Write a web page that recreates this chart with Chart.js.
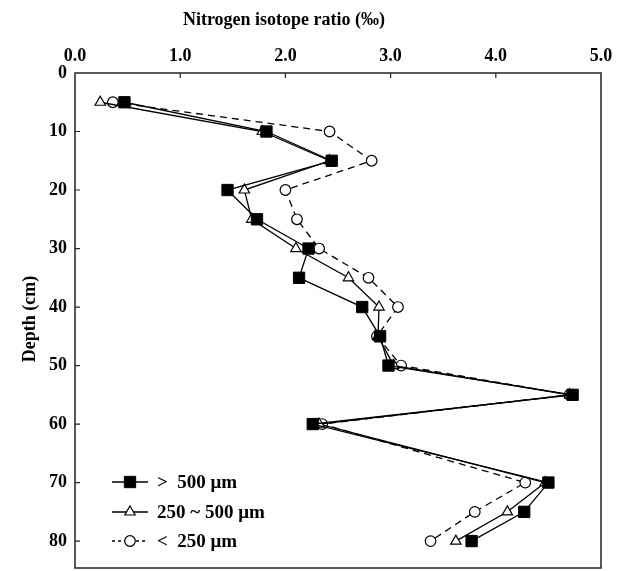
<!DOCTYPE html>
<html>
<head>
<meta charset="utf-8">
<script src="https://cdn.jsdelivr.net/npm/chart.js@4/dist/chart.umd.min.js"></script>
<style>
html,body{margin:0;padding:0;background:#fff;}
#wrap{width:628px;height:571px;}
</style>
</head>
<body>
<div id="wrap"><canvas id="c" width="628" height="571"></canvas></div>
<script>
// ---- data ----
const depths = [5, 10, 15, 20, 25, 30, 35, 40, 45, 50, 55, 60, 70, 75, 80];
const coarse = [0.47, 1.82, 2.44, 1.45, 1.73, 2.22, 2.13, 2.73, 2.90, 2.98, 4.73, 2.26, 4.50, 4.27, 3.77]; // > 500 um
const medium = [0.24, 1.78, 2.42, 1.61, 1.68, 2.10, 2.60, 2.89, 2.88, 3.03, 4.70, 2.32, 4.47, 4.11, 3.62]; // 250~500 um
const fine   = [0.36, 2.42, 2.82, 2.00, 2.11, 2.32, 2.79, 3.07, 2.87, 3.10, 4.70, 2.35, 4.28, 3.80, 3.38]; // < 250 um
const seriesLabels = ['>  500 μm', '250 ~ 500 μm', '<  250 μm'];
const xTickValues = [0, 1, 2, 3, 4, 5];
const yTickValues = [0, 10, 20, 30, 40, 50, 60, 70, 80];
const xTitle = 'Nitrogen isotope ratio (‰)';
const yTitle = 'Depth (cm)';

const SERIF = '"Liberation Serif", "Times New Roman", serif';
const toPts = vals => vals.map((v, i) => ({x: v, y: depths[i]}));

const datasets = [
  {label: seriesLabels[0], data: toPts(coarse), pointStyle: 'rect', pointRadius: 8,
   backgroundColor: '#000', borderColor: '#000', pointBorderColor: '#000', pointBackgroundColor: '#000',
   borderWidth: 1.3, pointBorderWidth: 1, showLine: true, borderDash: []},
  {label: seriesLabels[1], data: toPts(medium), pointStyle: 'triangle', pointRadius: 6,
   backgroundColor: '#fff', borderColor: '#000', pointBorderColor: '#000', pointBackgroundColor: '#fff',
   borderWidth: 1.3, pointBorderWidth: 1.2, showLine: true, borderDash: []},
  {label: seriesLabels[2], data: toPts(fine), pointStyle: 'circle', pointRadius: 5.3,
   backgroundColor: '#fff', borderColor: '#000', pointBorderColor: '#000', pointBackgroundColor: '#fff',
   borderWidth: 1.3, pointBorderWidth: 1.2, showLine: true, borderDash: [7, 5]}
];

const framePlugin = {
  id: 'frame',
  afterDatasetsDraw(chart) {
    const {ctx, chartArea: a, scales} = chart;
    ctx.save();
    ctx.strokeStyle = '#222';
    ctx.lineWidth = 1.5;
    ctx.strokeRect(a.left, a.top, a.right - a.left, a.bottom - a.top);
    ctx.lineWidth = 1.2;
    ctx.beginPath();
    xTickValues.forEach(v => {
      if (v === 0 || v === 5) return;
      const px = scales.x.getPixelForValue(v);
      ctx.moveTo(px, a.top); ctx.lineTo(px, a.top + 5);
    });
    yTickValues.forEach(v => {
      if (v === 0) return;
      const py = scales.y.getPixelForValue(v);
      ctx.moveTo(a.left, py); ctx.lineTo(a.left + 5, py);
    });
    ctx.stroke();
    // axis titles
    ctx.fillStyle = '#000';
    ctx.font = 'bold 18px ' + SERIF;
    ctx.textAlign = 'center';
    ctx.textBaseline = 'middle';
    ctx.fillText(xTitle, 284, 20);
    ctx.translate(30, 319);
    ctx.rotate(-Math.PI / 2);
    ctx.fillText(yTitle, 0, 0);
    ctx.restore();
  }
};

const legendPlugin = {
  id: 'customLegend',
  afterDatasetsDraw(chart) {
    const {ctx} = chart;
    const baseY = [482, 512, 541];
    ctx.save();
    chart.data.datasets.forEach((ds, i) => {
      const y = baseY[i];
      ctx.strokeStyle = '#000';
      ctx.lineWidth = 1.3;
      ctx.setLineDash(i === 2 ? [3, 3] : []);
      ctx.beginPath();
      ctx.moveTo(112, y); ctx.lineTo(148, y);
      ctx.stroke();
      ctx.setLineDash([]);
      ctx.fillStyle = ds.pointBackgroundColor;
      ctx.strokeStyle = '#000';
      ctx.lineWidth = ds.pointBorderWidth;
      ctx.beginPath();
      if (ds.pointStyle === 'rect') {
        const s = Math.SQRT1_2 * ds.pointRadius;
        ctx.rect(130 - s, y - s, 2 * s, 2 * s);
      } else if (ds.pointStyle === 'circle') {
        ctx.arc(130, y, ds.pointRadius, 0, Math.PI * 2);
      } else {
        const r = ds.pointRadius;
        ctx.moveTo(130, y - r);
        ctx.lineTo(130 + r * Math.cos(Math.PI / 6), y + r / 2);
        ctx.lineTo(130 - r * Math.cos(Math.PI / 6), y + r / 2);
        ctx.closePath();
      }
      ctx.fill(); ctx.stroke();
      ctx.fillStyle = '#000';
      ctx.font = 'bold 19px ' + SERIF;
      ctx.textBaseline = 'middle';
      ctx.textAlign = 'left';
      ctx.fillText(ds.label, 157, y + 1);
    });
    ctx.restore();
  }
};

new Chart(document.getElementById('c'), {
  type: 'scatter',
  data: {datasets},
  options: {
    responsive: false,
    animation: false,
    devicePixelRatio: 1,
    layout: {autoPadding: false, padding: {left: 0, top: 0, right: 27, bottom: 3}},
    plugins: {legend: {display: false}, tooltip: {enabled: false}},
    elements: {line: {tension: 0, fill: false}},
    scales: {
      x: {
        type: 'linear', position: 'top', min: 0, max: 5,
        grid: {display: false, drawTicks: false},
        border: {display: false},
        afterBuildTicks: s => { s.ticks = xTickValues.map(v => ({value: v})); },
        afterFit: s => { s.height = 73; s.paddingLeft = 0; s.paddingRight = 0; },
        ticks: {
          callback: v => Number(v).toFixed(1),
          color: '#000', padding: 6, maxRotation: 0,
          font: {family: SERIF, size: 18, weight: 'bold'}
        },
        title: {display: false}
      },
      y: {
        type: 'linear', reverse: true, min: 0, max: 84.6,
        grid: {display: false, drawTicks: false},
        border: {display: false},
        afterBuildTicks: s => { s.ticks = yTickValues.map(v => ({value: v})); },
        afterFit: s => { s.width = 75; s.paddingTop = 0; s.paddingBottom = 0; },
        ticks: {
          color: '#000', padding: 8,
          font: {family: SERIF, size: 18, weight: 'bold'}
        },
        title: {display: false}
      }
    }
  },
  plugins: [framePlugin, legendPlugin]
});
</script>
</body>
</html>
